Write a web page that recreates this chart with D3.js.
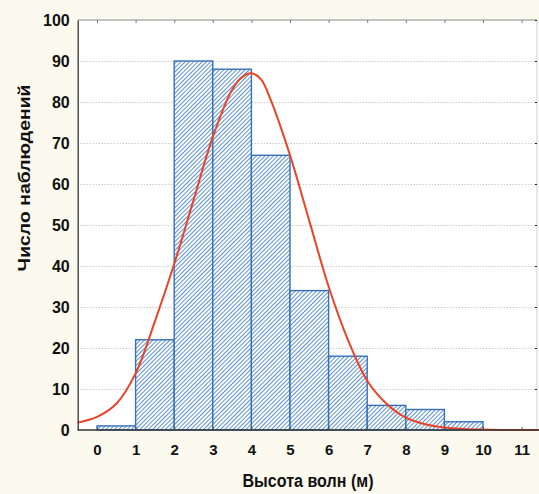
<!DOCTYPE html>
<html>
<head>
<meta charset="utf-8">
<script src="https://cdn.jsdelivr.net/npm/d3@7"></script>
<style>
  html, body { margin: 0; padding: 0; background: #fcf9ee; }
  svg { display: block; }
  .tick text { font-family: "Liberation Sans", Arial, sans-serif; font-weight: bold; fill: #111; }
  .grid .tick line { stroke: #b5b5b5; stroke-dasharray: 1,2; }
  .grid .domain { display: none; }
</style>
</head>
<body>
<div id="chart"></div>
<script>
// Histogram counts per 1 m bin (bin starts 0..10)
var binStart = [0, 1, 2, 3, 4, 5, 6, 7, 8, 9, 10];
var counts   = [1, 22, 90, 88, 67, 34, 18, 6, 5, 2, 0];

// Fitted curve
var curveX = [-0.5, 0, 0.5, 1, 1.5, 2, 2.5, 3, 3.5, 3.75, 4, 4.25, 4.5, 5, 5.5, 6, 6.5, 7, 7.5, 8, 8.5, 9, 9.5, 10, 10.5, 11, 11.5];
var curveY = [1.8, 3.2, 6.4, 13.8, 26.5, 40.5, 56, 71.5, 83, 86, 87, 85.5, 80.5, 67, 51, 35, 22, 12, 6.4, 3, 1.4, 0.6, 0.25, 0.1, 0, 0, 0];

var xTicks = [0, 1, 2, 3, 4, 5, 6, 7, 8, 9, 10, 11];
var yTicks = [0, 10, 20, 30, 40, 50, 60, 70, 80, 90, 100];

var xTitle = "Высота волн (м)";
var yTitle = "Число наблюдений";

var W = 539, H = 494;
var margin = {top: 20, left: 77.7},
    width = 459.3,   // plot frame to the right border line
    height = 410;

var xScale = d3.scaleLinear().domain([-0.5, 11.5]).range([0, 12 * 38.6]);
var yScale = d3.scaleLinear().domain([0, 100]).range([height, 0]);

var svg = d3.select("#chart").append("svg")
    .attr("width", W).attr("height", H);

svg.append("rect").attr("width", W).attr("height", H).attr("fill", "#fcf9ee");

// hatch pattern for the bars
var defs = svg.append("defs");
var pat = defs.append("pattern")
    .attr("id", "hatch")
    .attr("patternUnits", "userSpaceOnUse")
    .attr("width", 3).attr("height", 3)
    .attr("patternTransform", "rotate(45)");
pat.append("rect").attr("width", 3).attr("height", 3).attr("fill", "#ffffff");
pat.append("line").attr("x1", 0.5).attr("y1", 0).attr("x2", 0.5).attr("y2", 3)
    .attr("stroke", "#4a86cc").attr("stroke-width", 0.9);

var g = svg.append("g")
    .attr("transform", "translate(" + margin.left + "," + margin.top + ")");

// plot area
g.append("rect")
    .attr("width", W - margin.left).attr("height", height)
    .attr("fill", "#ffffff");

// dotted grid
g.append("g")
    .attr("class", "grid")
    .call(d3.axisLeft(yScale).tickValues(yTicks.slice(1, -1)).tickSize(-width).tickFormat(""));

// bars
g.selectAll(".bar")
    .data(binStart.map(function (d, i) { return {x0: d, x1: d + 1, n: counts[i]}; })
                  .filter(function (d) { return d.n > 0; }))
  .enter().append("rect")
    .attr("class", "bar")
    .attr("x", function (d) { return xScale(d.x0); })
    .attr("width", function (d) { return xScale(d.x1) - xScale(d.x0); })
    .attr("y", function (d) { return yScale(d.n); })
    .attr("height", function (d) { return height - yScale(d.n); })
    .attr("fill", "url(#hatch)")
    .attr("stroke", "#3670b8")
    .attr("stroke-width", 1.4);

// top frame with small inward ticks
var topAxis = g.append("g")
    .call(d3.axisTop(xScale).tickValues(xTicks).tickSize(-3).tickFormat(""));
topAxis.select(".domain").attr("stroke", "#8a8a8a").attr("d", "M0,0H" + width);
topAxis.selectAll(".tick line").attr("stroke", "#777");

// right frame
var rightAxis = g.append("g")
    .attr("transform", "translate(" + width + ",0)")
    .call(d3.axisRight(yScale).tickValues(yTicks).tickSize(-2).tickFormat(""));
rightAxis.select(".domain").attr("stroke", "#d0d0d0").attr("d", "M0,0V" + height);
rightAxis.selectAll(".tick line").attr("stroke", "#222");

// fitted curve
var line = d3.line()
    .x(function (d, i) { return xScale(curveX[i]); })
    .y(function (d) { return yScale(d); })
    .curve(d3.curveCatmullRom);

g.append("path")
    .datum(curveY)
    .attr("fill", "none")
    .attr("stroke", "#ea4327")
    .attr("stroke-width", 2)
    .attr("d", line);

// x axis
var xAxis = g.append("g")
    .attr("transform", "translate(0," + height + ")")
    .call(d3.axisBottom(xScale).tickValues(xTicks).tickSize(-3).tickPadding(14));
xAxis.select(".domain").attr("stroke", "#333").attr("stroke-width", 1.3).attr("d", "M0,0H" + (W - margin.left));
xAxis.selectAll(".tick line").attr("stroke", "#555");
xAxis.selectAll(".tick text").style("font-size", "15px");

// y axis
var yAxis = g.append("g")
    .call(d3.axisLeft(yScale).tickValues(yTicks).tickSize(0).tickPadding(8));
yAxis.select(".domain").attr("stroke", "#333").attr("stroke-width", 1.3);
yAxis.selectAll(".tick text").style("font-size", "16px").attr("dy", "0.36em");

// titles
svg.append("text")
    .attr("x", 308).attr("y", 487)
    .attr("text-anchor", "middle")
    .attr("textLength", 131).attr("lengthAdjust", "spacingAndGlyphs")
    .style("font-family", "'Liberation Sans', Arial, sans-serif")
    .style("font-weight", "bold").style("font-size", "18px")
    .attr("fill", "#111")
    .text(xTitle);

svg.append("text")
    .attr("transform", "translate(30,178) rotate(-90)")
    .attr("text-anchor", "middle")
    .attr("textLength", 187).attr("lengthAdjust", "spacingAndGlyphs")
    .style("font-family", "'Liberation Sans', Arial, sans-serif")
    .style("font-weight", "bold").style("font-size", "17px")
    .attr("fill", "#111")
    .text(yTitle);
</script>
</body>
</html>
